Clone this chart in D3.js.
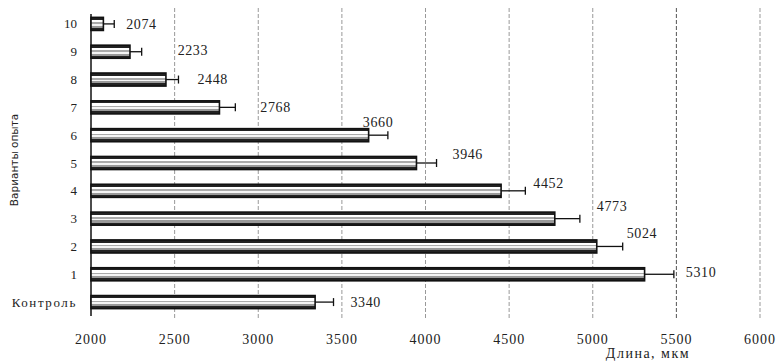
<!DOCTYPE html>
<html lang="ru">
<head>
  <meta charset="UTF-8">
  <title>Длина, мкм</title>
  <script src="https://d3js.org/d3.v7.min.js"></script>
  <style>
    body { margin: 0; background: #fff; }
    .tick-label { font-family: "Liberation Serif", serif; fill: #222; }
  </style>
</head>
<body>
  <svg id="chart" width="781" height="361"></svg>

  <script>
    // данные
    const categories = ["10", "9", "8", "7", "6", "5", "4", "3", "2", "1", "Контроль"];
    const values = [2074, 2233, 2448, 2768, 3660, 3946, 4452, 4773, 5024, 5310, 3340];
    const errors = [65, 70, 75, 95, 115, 120, 145, 150, 155, 175, 110];
    const xTicks = [2000, 2500, 3000, 3500, 4000, 4500, 5000, 5500, 6000];

    // сдвиг подписей значений (dx, dy) относительно конца погрешности
    const labelNudge = [[2, 0], [26, -2], [9, 0], [15, 0], [-35, -13], [6, -9],
                        [-2, -8], [7, -13], [-6, -13], [2, -2], [7, 0]];

    const svg = d3.select("#chart");

    const x = d3.scaleLinear().domain([2000, 6000]).range([91, 760]);
    const y = d3.scaleBand().domain(categories).range([10, 316])
      .paddingInner(0.53).paddingOuter(0.265);

    const rows = categories.map((c, i) => ({ cat: c, value: values[i], err: errors[i], nudge: labelNudge[i] }));

    // штриховка столбиков
    const grad = svg.append("defs").append("linearGradient")
      .attr("id", "stripes").attr("x1", 0).attr("y1", 0).attr("x2", 0).attr("y2", 1);
    [[0, "#222"], [0.2, "#222"], [0.2, "#fff"], [0.38, "#fff"], [0.38, "#aaa"], [0.5, "#aaa"],
     [0.5, "#f4f4f4"], [0.64, "#f4f4f4"], [0.64, "#999"], [0.8, "#999"], [0.8, "#222"], [1, "#222"]]
      .forEach(s => grad.append("stop").attr("offset", s[0]).attr("stop-color", s[1]));

    // сетка
    svg.append("g").selectAll("line")
      .data(xTicks.slice(1))
      .join("line")
      .attr("x1", d => x(d)).attr("x2", d => x(d))
      .attr("y1", 8).attr("y2", 318)
      .attr("stroke", d => d === 5500 ? "#555" : "#999")
      .attr("stroke-width", 1)
      .attr("stroke-dasharray", "4,2");

    // ось Y
    svg.append("line")
      .attr("x1", x(2000)).attr("x2", x(2000))
      .attr("y1", 14).attr("y2", 316)
      .attr("stroke", "#111").attr("stroke-width", 1.5);

    // подписи оси X
    svg.append("g").selectAll("text")
      .data(xTicks)
      .join("text")
      .attr("class", "tick-label")
      .attr("x", d => x(d))
      .attr("y", 339)
      .attr("dy", "0.35em")
      .attr("text-anchor", "middle")
      .style("font-size", "14px")
      .style("letter-spacing", "1px")
      .text(d => d);

    // подписи оси Y
    svg.append("g").selectAll("text")
      .data(categories)
      .join("text")
      .attr("class", "tick-label")
      .attr("x", 77)
      .attr("y", d => y(d) + y.bandwidth() / 2)
      .attr("dy", "0.35em")
      .attr("text-anchor", "end")
      .style("font-size", "13px")
      .style("letter-spacing", d => d.length > 2 ? "1.6px" : "0px")
      .text(d => d);

    // столбики
    svg.append("g").selectAll("rect")
      .data(rows)
      .join("rect")
      .attr("x", x(2000))
      .attr("y", d => y(d.cat))
      .attr("width", d => x(d.value) - x(2000))
      .attr("height", y.bandwidth())
      .attr("fill", "url(#stripes)")
      .attr("stroke", "#111")
      .attr("stroke-width", 1.6);

    // погрешности
    const eb = svg.append("g").attr("stroke", "#111").attr("stroke-width", 1.3);
    eb.selectAll(".err")
      .data(rows)
      .join("line")
      .attr("class", "err")
      .attr("x1", d => x(d.value)).attr("x2", d => x(d.value + d.err))
      .attr("y1", d => y(d.cat) + y.bandwidth() / 2)
      .attr("y2", d => y(d.cat) + y.bandwidth() / 2);
    eb.selectAll(".cap")
      .data(rows)
      .join("line")
      .attr("class", "cap")
      .attr("x1", d => x(d.value + d.err)).attr("x2", d => x(d.value + d.err))
      .attr("y1", d => y(d.cat) + y.bandwidth() / 2 - 4)
      .attr("y2", d => y(d.cat) + y.bandwidth() / 2 + 4);

    // подписи значений
    svg.append("g").selectAll("text")
      .data(rows)
      .join("text")
      .attr("class", "tick-label")
      .attr("x", d => x(d.value + d.err) + 10 + d.nudge[0])
      .attr("y", d => y(d.cat) + y.bandwidth() / 2 + d.nudge[1])
      .attr("dy", "0.35em")
      .style("font-size", "14px")
      .style("letter-spacing", "0.6px")
      .text(d => d.value);

    // заголовки осей
    svg.append("text")
      .attr("transform", "translate(18,160) rotate(-90)")
      .attr("text-anchor", "middle")
      .style("font-family", "'DejaVu Sans', sans-serif")
      .style("font-size", "10.5px")
      .style("fill", "#222")
      .text("Варианты опыта");

    svg.append("text")
      .attr("class", "tick-label")
      .attr("x", 648)
      .attr("y", 353)
      .attr("dy", "0.35em")
      .attr("text-anchor", "middle")
      .style("font-size", "14px")
      .style("letter-spacing", "1.5px")
      .text("Длина, мкм");
  </script>
</body>
</html>
